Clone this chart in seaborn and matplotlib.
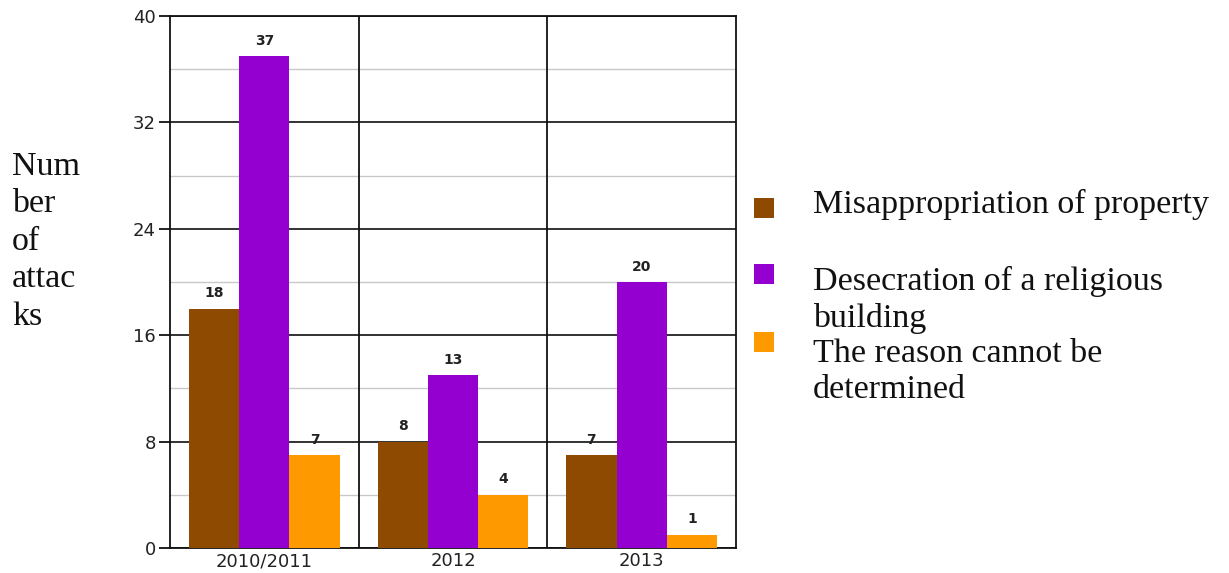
import matplotlib
matplotlib.use("Agg")
import matplotlib.pyplot as plt
from matplotlib.patches import Rectangle
from matplotlib.ticker import MultipleLocator
import seaborn as sns
import pandas as pd

years = ["2010/2011", "2012", "2013"]
reasons = ["Misappropriation of property",
           "Desecration of a religious building",
           "The reason cannot be determined"]
misappropriation = [18, 8, 7]
desecration = [37, 13, 20]
undetermined = [7, 4, 1]
colors = ["#8E4A00", "#9400D0", "#FF9900"]
legend_labels = ["Misappropriation of property",
                 "Desecration of a religious\nbuilding",
                 "The reason cannot be\ndetermined"]
ylabel_text = "Num\nber\nof\nattac\nks"

rows = []
for r, vals in zip(reasons, [misappropriation, desecration, undetermined]):
    for y, v in zip(years, vals):
        rows.append({"year": y, "reason": r, "count": v})
df = pd.DataFrame(rows)

sns.set_style("white")
plt.rcParams["font.family"] = ["DejaVu Sans"]

W, H = 1229, 573
fig = plt.figure(figsize=(W / 100, H / 100), dpi=100)
ax = fig.add_axes([170 / W, 1 - 548 / H, 566 / W, 532 / H])

sns.barplot(data=df, x="year", y="count", hue="reason", hue_order=reasons,
            order=years, palette=colors, width=0.8, gap=0, saturation=1,
            edgecolor="none", linewidth=0, ax=ax, legend=False, zorder=3)

ax.set_ylim(0, 40)
ax.set_xlim(-0.5, 2.5)
ax.yaxis.set_major_locator(MultipleLocator(8))
ax.yaxis.set_minor_locator(MultipleLocator(4))
ax.grid(axis="y", which="major", color="#222222", linewidth=1.3, zorder=1)
ax.grid(axis="y", which="minor", color="#c8c8c8", linewidth=1.0, zorder=1)
ax.set_axisbelow(True)
for b in [0.5, 1.5]:
    ax.axvline(b, color="#111111", linewidth=1.3, zorder=1)

ax.set_xticks([0, 1, 2])
ax.set_xticklabels(years, fontsize=13, color="#222222")
ax.tick_params(axis="x", which="major", length=0, pad=3)
ax.set_xticks([-0.5, 0.5, 1.5, 2.5], minor=True)
ax.tick_params(axis="x", which="minor", length=8, width=1.3, color="#111111", direction="out")
ax.tick_params(axis="y", which="major", length=8, width=1.3, color="#111111",
               labelsize=13, labelcolor="#222222", pad=2, left=True)
ax.tick_params(axis="y", which="minor", length=0)

for s in ax.spines.values():
    s.set_visible(True)
    s.set_color("#111111")
    s.set_linewidth(1.3)

ax.set_xlabel("")
ax.set_ylabel("")

for cont in ax.containers:
    ax.bar_label(cont, fmt="%d", padding=6, fontsize=10, fontweight="bold", color="#222222")

fs = 24.5
# multi-line baseline alignment anchors the last line's baseline
fig.text(12 / W, 1 - 325 / H, ylabel_text, fontsize=fs, family="Liberation Serif",
         va="baseline", ha="left", linespacing=1.3, color="#111111")

# legend
sq = 20
legend_sq_y = [208, 274, 342]
legend_txt_y = [213, 327, 398]
for c, yc, ty, lab in zip(colors, legend_sq_y, legend_txt_y, legend_labels):
    fig.patches.append(Rectangle(((764 - sq / 2) / W, 1 - (yc + sq / 2) / H),
                                 sq / W, sq / H, transform=fig.transFigure,
                                 facecolor=c, edgecolor="none"))
    fig.text(813 / W, 1 - ty / H, lab, fontsize=fs, family="Liberation Serif",
             va="baseline", ha="left", linespacing=1.25, color="#111111")

fig.savefig("out.png", dpi=100, facecolor="white")
